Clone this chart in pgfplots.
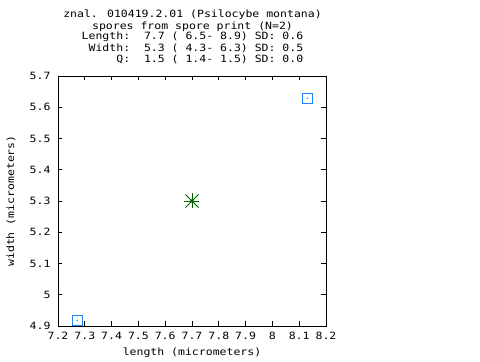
\documentclass[border=0pt]{standalone}
\usepackage{fontspec}
\usepackage{pgfplots}
\pgfplotsset{compat=1.18}
\newfontfamily\gp[FakeStretch=1.15]{DejaVu Sans Mono}
\definecolor{gpblue}{RGB}{30,130,255}
\definecolor{gpgreen}{RGB}{0,100,0}
\begin{document}
\begin{tikzpicture}[x=1pt,y=1pt]
\path (0,0) rectangle (480,360);
\begin{axis}[
  at={(58pt,34pt)}, anchor=south west,
  scale only axis, width=268pt, height=250pt,
  xmin=7.2, xmax=8.2, ymin=4.9, ymax=5.7,
  xtick={7.2,7.3,7.4,7.5,7.6,7.7,7.8,7.9,8.0,8.1,8.2},
  xticklabels={7.2,7.3,7.4,7.5,7.6,7.7,7.8,7.9,8,8.1,8.2},
  ytick={4.9,5.0,5.1,5.2,5.3,5.4,5.5,5.6,5.7},
  yticklabels={4.9,5,5.1,5.2,5.3,5.4,5.5,5.6,5.7},
  tick align=inside, major tick length=4.5pt,
  tick style={black, line width=0.8pt},
  axis line style={line width=0.8pt},
  ticklabel style={font=\fontsize{10}{12}\gp},
  xticklabel style={yshift=-3pt},
  yticklabel style={xshift=-4pt},
  label style={font=\fontsize{10}{12}\gp},
  xlabel={length (micrometers)},
  ylabel={width (micrometers)},
  xlabel style={at={(axis description cs:0.5,-0.108)}, anchor=center},
  ylabel style={at={(axis description cs:-0.175,0.5)}, anchor=center},
  clip=false,
]
\addplot[only marks, mark=square, mark size=5.2pt, color=gpblue, mark options={line width=0.9pt}]
  coordinates {(7.272,4.918) (8.130,5.629)};
\addplot[only marks, mark=*, mark size=0.5pt, color=gpblue]
  coordinates {(7.272,4.918) (8.130,5.629)};
\addplot[only marks, mark=+, mark size=7.5pt, color=gpgreen, mark options={line width=0.9pt}]
  coordinates {(7.7,5.3)};
\addplot[only marks, mark=x, mark size=9.2pt, color=gpgreen, mark options={line width=0.9pt}]
  coordinates {(7.7,5.3)};
\addplot[only marks, mark=*, mark size=1.6pt, color=gpgreen]
  coordinates {(7.7,5.3)};
\end{axis}
\begin{scope}[every node/.style={font=\fontsize{10}{12}\gp, inner sep=0pt}]
\node at (192.5,345) {znal. 010419.2.01 (Psilocybe montana)};
\node at (192.5,333.5) {spores from spore print (N=2)};
\node at (192.5,323) {Length:\ \ 7.7 (\ 6.5-\ 8.9) SD:\ 0.6};
\node at (192.5,312) {\ Width:\ \ 5.3 (\ 4.3-\ 6.3) SD:\ 0.5};
\node at (192.5,300.5) {\ \ \ \ \ Q:\ \ 1.5 (\ 1.4-\ 1.5) SD:\ 0.0};
\end{scope}
\end{tikzpicture}
\end{document}
